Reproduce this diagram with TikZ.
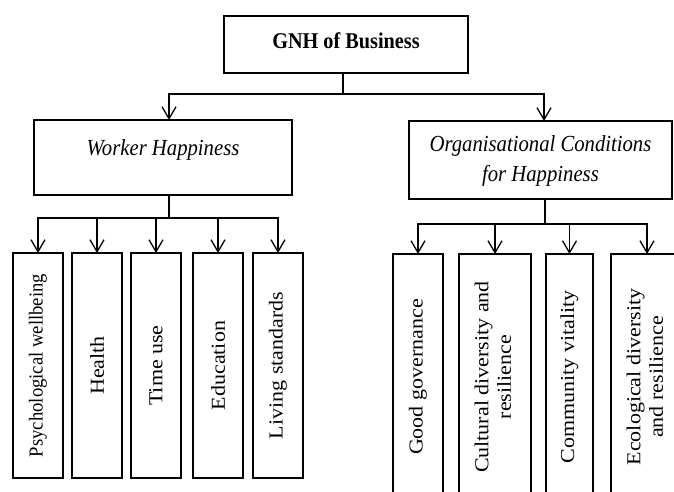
\documentclass[tikz,border=0pt]{standalone}
\usepackage{fontspec}
\setmainfont{Liberation Serif}
\usetikzlibrary{arrows.meta,calc}
\newcommand\vtext[2][1]{\rotatebox{90}{\scalebox{#1}[0.9]{#2}}}
\newcommand\htext[1]{\scalebox{0.9}[1]{#1}}
\begin{document}
\begin{tikzpicture}[x=1pt,y=-1pt,
  box/.style={draw, line width=2.6pt, inner sep=0pt, outer sep=0pt, align=center},
  leafbox/.style={box, minimum width=#1},
  conn/.style={line width=1.4pt},
  arr/.style={conn, -{Straight Barb[length=12pt,width=14pt,line width=1.3pt]}},
  titlefont/.style={font=\fontsize{22.5}{27}\bfseries\selectfont},
  midfont/.style={font=\fontsize{23}{30}\itshape\selectfont},
  leaffont/.style={font=\fontsize{22}{25}\selectfont}]
\path[use as bounding box, clip] (0,0) rectangle (674,491);
% top
\node[box, titlefont, minimum width=244pt, minimum height=57pt, text height=16pt, text depth=8pt] (top) at (346,44.5) {\htext{GNH of Business}};
% middle
\node[box, midfont, minimum width=258pt, minimum height=75pt, text height=16pt, text depth=19.6pt] (wh) at (163,157.5) {\htext{Worker Happiness}};
\node[box, midfont, minimum width=263pt, minimum height=78pt] (oc) at (540.5,160) {\htext{\begin{tabular}{@{}c@{}}Organisational Conditions\\for Happiness\end{tabular}}};
% left leaves
\node[leafbox=50pt, leaffont, minimum height=225pt] (l1) at (38,365.5) {\vtext[0.85]{Psychological wellbeing}};
\node[leafbox=50pt, leaffont, minimum height=225pt] (l2) at (97,365.5) {\vtext{Health}};
\node[leafbox=50pt, leaffont, minimum height=225pt] (l3) at (156,365.5) {\vtext{Time use}};
\node[leafbox=50pt, leaffont, minimum height=225pt] (l4) at (218,365.5) {\vtext{Education}};
\node[leafbox=50pt, leaffont, minimum height=225pt] (l5) at (278,365.5) {\vtext{Living standards}};
% right leaves
\node[leafbox=50pt, leaffont, minimum height=246pt] (r1) at (418,377) {\vtext{Good governance}};
\node[leafbox=72pt, leaffont, minimum height=246pt] (r2) at (495,377) {\vtext{\begin{tabular}{@{}c@{}}Cultural diversity and\\resilience\end{tabular}}};
\node[leafbox=47pt, leaffont, minimum height=246pt] (r3) at (569.5,377) {\vtext{Community vitality}};
\node[leafbox=72pt, leaffont, minimum height=246pt] (r4) at (647,377) {\vtext{\begin{tabular}{@{}c@{}}Ecological diversity\\and resilience\end{tabular}}};
% connectors top
\coordinate (h0) at ($(top.south)+(-3,21)$);
\draw[conn] (top.south -| h0) -- (h0);
\draw[arr] (h0) -| ([xshift=6pt]wh.north);
\draw[arr] (h0) -| ([xshift=3.5pt]oc.north);
% worker
\coordinate (h1) at ($(wh.south)+(6,23)$);
\draw[conn] (wh.south -| h1) -- (h1);
\foreach \n in {l1,l2,l3,l4,l5} \draw[arr] (h1) -| (\n.north);
% org
\coordinate (h2) at ($(oc.south)+(4.5,25)$);
\draw[conn] (oc.south -| h2) -- (h2);
\foreach \n in {r1,r2,r3,r4} \draw[arr] (h2) -| (\n.north);
\end{tikzpicture}
\end{document}
